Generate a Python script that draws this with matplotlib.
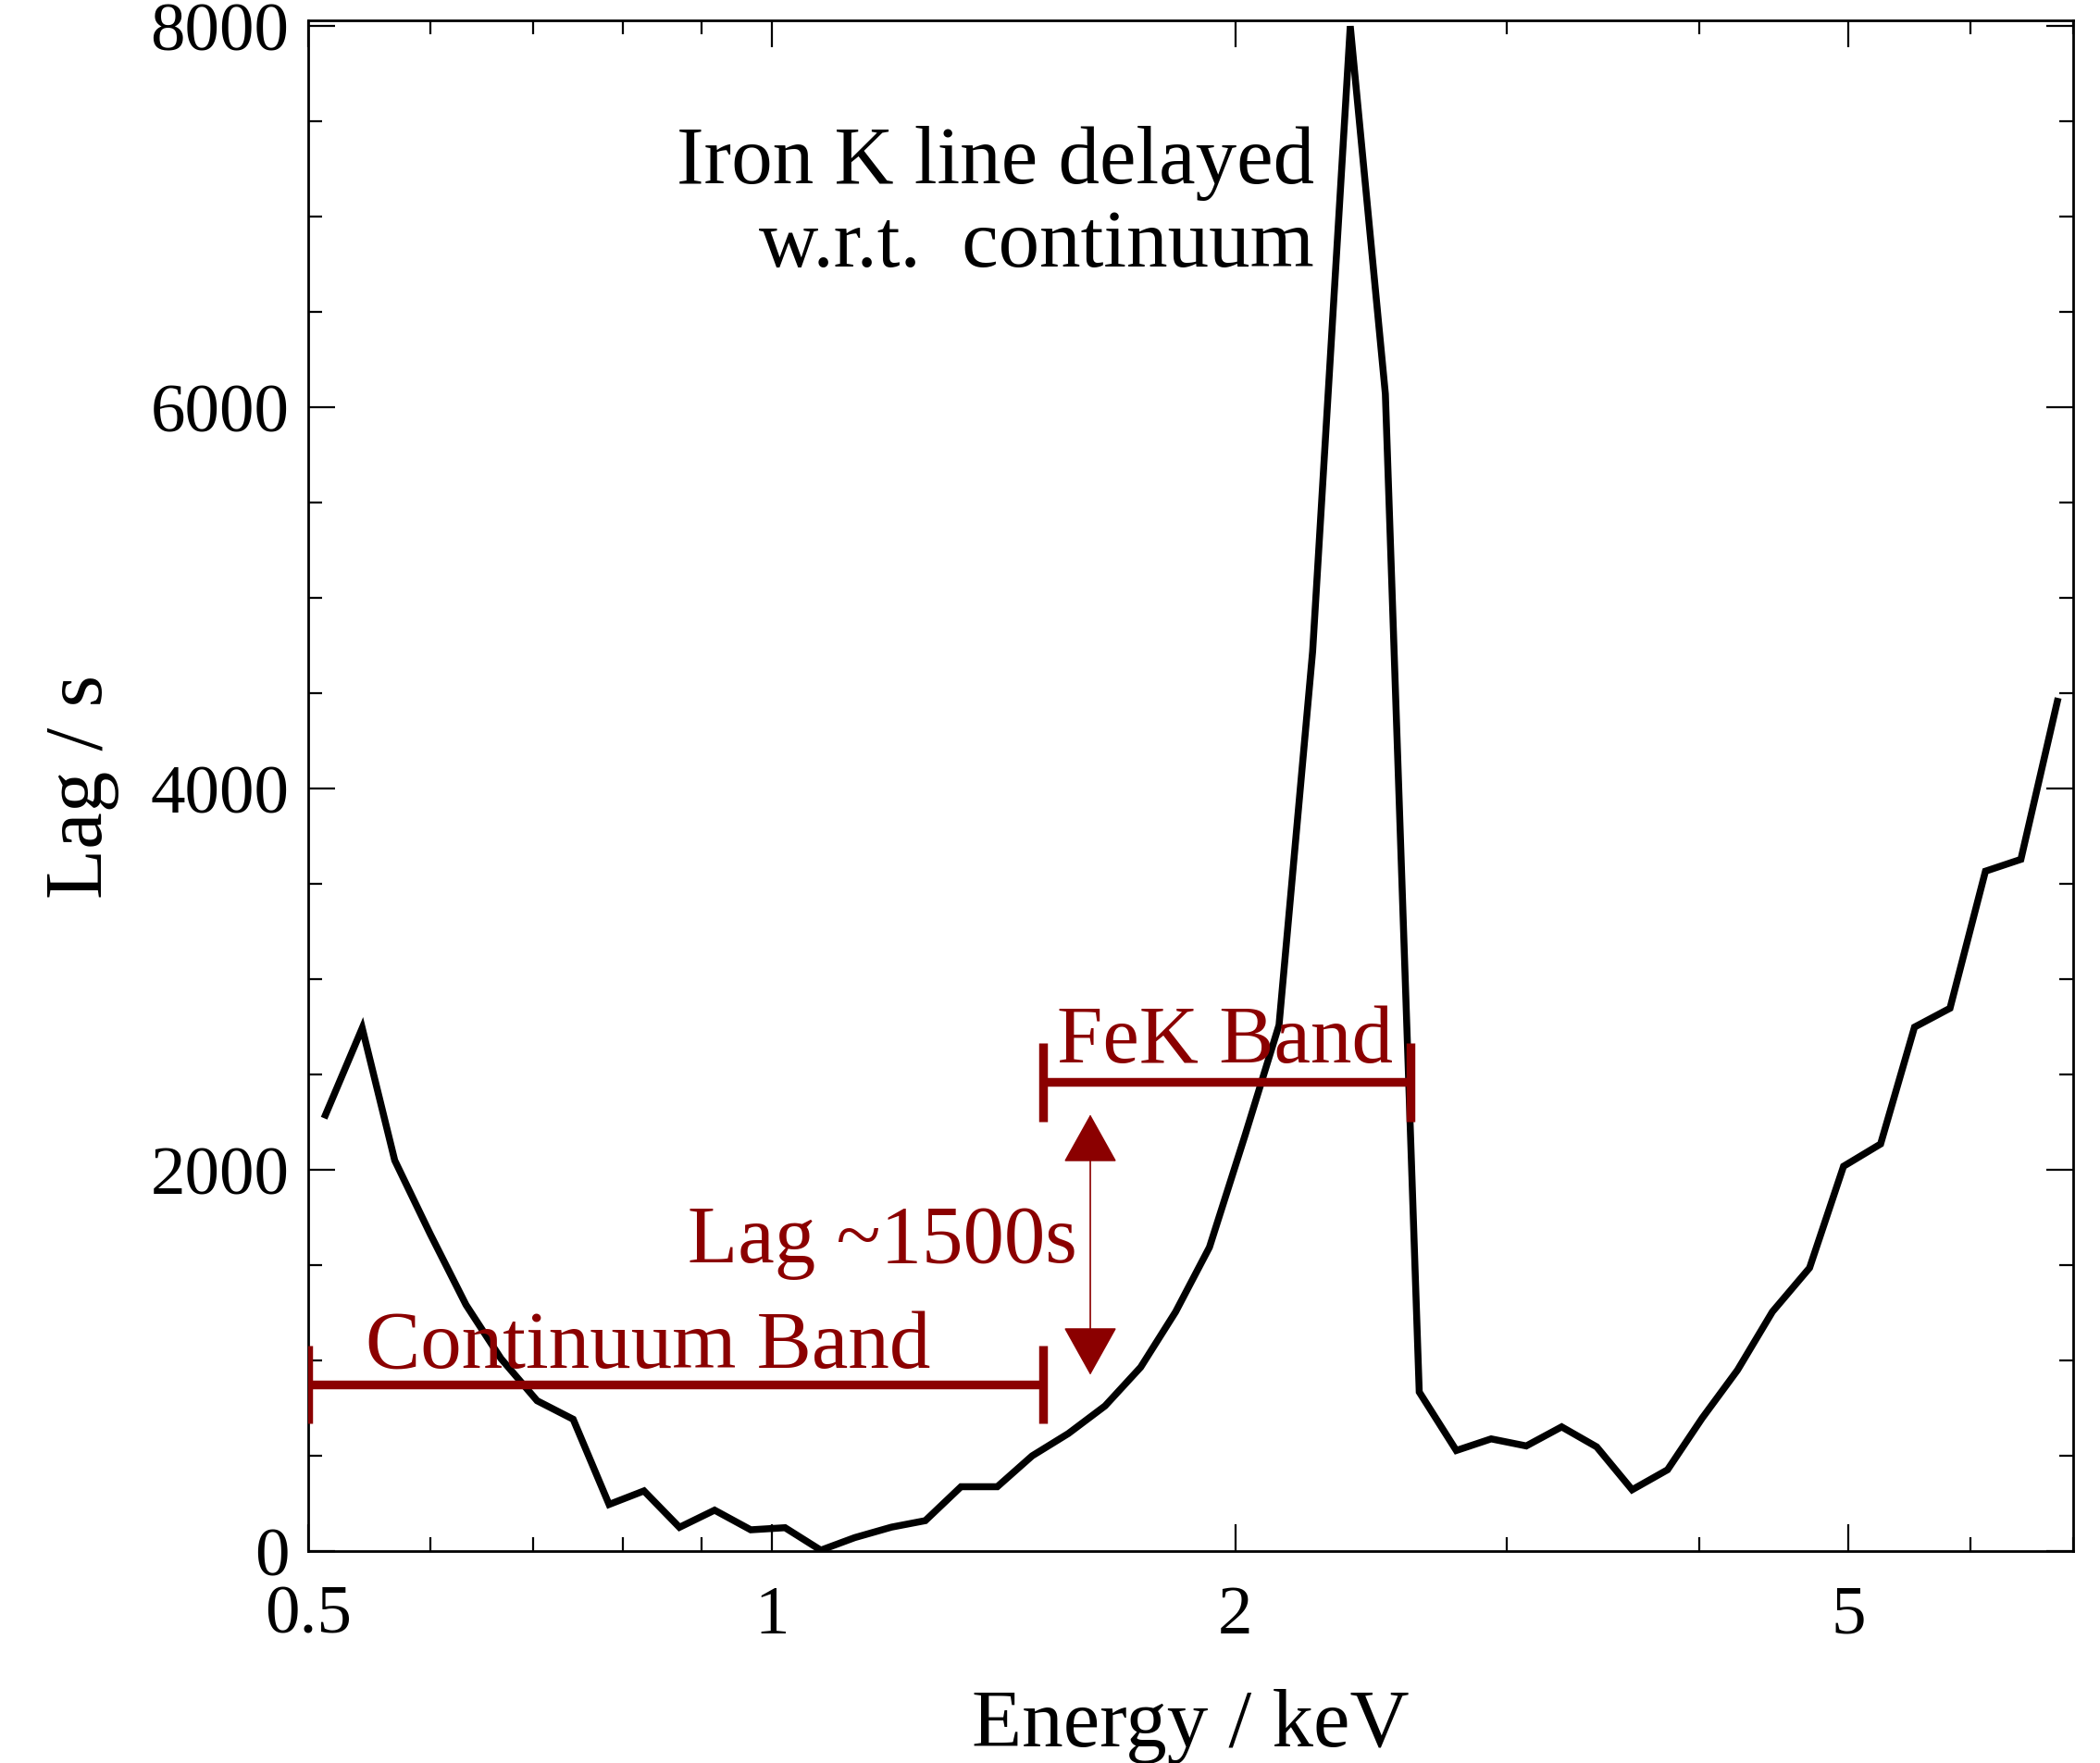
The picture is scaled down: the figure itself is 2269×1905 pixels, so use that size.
import matplotlib
matplotlib.use("Agg")
import matplotlib.pyplot as plt
from matplotlib.ticker import FixedLocator, NullFormatter

plt.rcParams['font.family'] = ['Liberation Serif', 'DejaVu Serif']

# lag-energy spectrum
energy = [0.513, 0.542, 0.569, 0.600, 0.633, 0.667, 0.704, 0.743, 0.784, 0.826,
          0.871, 0.918, 0.969, 1.020, 1.076, 1.132, 1.196, 1.258, 1.327, 1.401,
          1.476, 1.558, 1.646, 1.736, 1.829, 1.924, 2.029, 2.135, 2.245, 2.375,
          2.503, 2.633, 2.783, 2.932, 3.090, 3.258, 3.433, 3.620, 3.817, 4.019,
          4.238, 4.465, 4.720, 4.966, 5.249, 5.522, 5.823, 6.140, 6.474, 6.837]
lag = [2288, 2744, 2050, 1664, 1292, 1010, 789, 692, 245, 316,
       125, 215, 112, 123, 5, 71, 126, 160, 338, 338,
       500, 617, 762, 965, 1255, 1594, 2180, 2760, 4720, 8000,
       6070, 835, 528, 589, 552, 652, 547, 322, 427, 697,
       950, 1256, 1486, 2019, 2136, 2749, 2848, 3567, 3629, 4458]

# energy bands used for the lag measurement
cont_band = (0.5, 1.5)
cont_lag = 875
fek_band = (1.5, 2.6)
fek_lag = 2460
cap_half = 205
arrow_energy = 1.61
arrow_lags = (925, 2290)

x_major = [0.5, 1, 2, 5]
x_major_labels = ['0.5', '1', '2', '5']
x_minor = [0.6, 0.7, 0.8, 0.9, 3, 4, 6, 7]
y_major = [0, 2000, 4000, 6000, 8000]
y_minor = [500, 1000, 1500, 2500, 3000, 3500, 4500, 5000, 5500, 6500, 7000, 7500]

red = '#8B0000'

fig = plt.figure(figsize=(11.345, 9.53), dpi=200)
ax = fig.add_axes([0.1468, 0.1201, 0.9872 - 0.1468, 0.9879 - 0.1201])

ax.plot(energy, lag, color='black', lw=2.7, solid_joinstyle='miter', zorder=3)

# band bars with end caps
ax.hlines(cont_lag, *cont_band, color=red, lw=3.4, zorder=4)
ax.vlines(cont_band, cont_lag - cap_half, cont_lag + cap_half, color=red, lw=3.4, zorder=4)
ax.hlines(fek_lag, *fek_band, color=red, lw=3.4, zorder=4)
ax.vlines(fek_band, fek_lag - cap_half, fek_lag + cap_half, color=red, lw=3.4, zorder=4)

ax.annotate('', xy=(arrow_energy, arrow_lags[1]), xytext=(arrow_energy, arrow_lags[0]),
            arrowprops=dict(arrowstyle='<|-|>,head_length=0.86,head_width=0.48',
                            mutation_scale=20, lw=0.6, color=red,
                            shrinkA=0, shrinkB=0), zorder=4)

ax.text(0.545, 970, 'Continuum Band', color=red, fontsize=32, ha='left', va='baseline')
ax.text(1.532, 2570, 'FeK Band', color=red, fontsize=32, ha='left', va='baseline')
ax.text(1.578, 1520, 'Lag ~1500s', color=red, fontsize=32, ha='right', va='baseline')
ax.text(2.25, 7180, 'Iron K line delayed', color='black', fontsize=32, ha='right', va='baseline')
ax.text(2.25, 6744, 'w.r.t.  continuum', color='black', fontsize=32, ha='right', va='baseline')

ax.set_xscale('log')
ax.set_xlim(0.5, 7.0)
ax.set_ylim(0, 8030)

ax.xaxis.set_major_locator(FixedLocator(x_major))
ax.xaxis.set_minor_locator(FixedLocator(x_minor))
ax.set_xticklabels(x_major_labels)
ax.xaxis.set_minor_formatter(NullFormatter())
ax.yaxis.set_major_locator(FixedLocator(y_major))
ax.yaxis.set_minor_locator(FixedLocator(y_minor))

ax.tick_params(which='both', direction='in', top=True, right=True, width=0.8, labelsize=27)
ax.tick_params(which='major', length=10.4)
ax.tick_params(which='minor', length=5.4)
ax.tick_params(axis='x', which='major', pad=13)
ax.tick_params(axis='y', which='major', pad=7.5)
for s in ax.spines.values():
    s.set_linewidth(1.0)

ax.set_xlabel('Energy / keV', fontsize=32, labelpad=16)
ax.set_ylabel('Lag / s', fontsize=32, labelpad=12)

fig.savefig('out.png', dpi=200)
